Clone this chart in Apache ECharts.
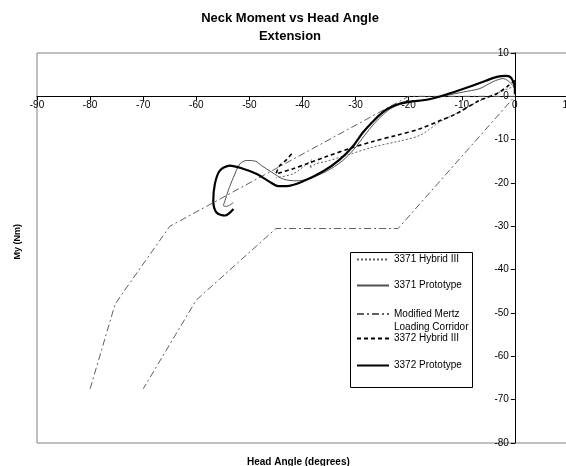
<!DOCTYPE html>
<html>
<head>
<meta charset="utf-8">
<script src="https://cdn.jsdelivr.net/npm/echarts@6/dist/echarts.min.js"></script>
<style>
  html, body { margin: 0; padding: 0; background: #fff; }
  #chart { width: 566px; height: 466px; }
</style>
</head>
<body>
<div id="chart"></div>
<script>
// Axis ticks
const xTicks = { min: -90, max: 10, step: 10 };
const yTicks = { min: -80, max: 10, step: 10 };

// Series names (legend order)
const seriesNames = [
  '3371 Hybrid III',
  '3371 Prototype',
  'Modified Mertz\nLoading Corridor',
  '3372 Hybrid III',
  '3372 Prototype'
];

// Head angle (deg) / neck moment My (Nm) pairs
const hybrid3371 = [
  [0, 2.4], [-2, 1.4], [-5, -0.1], [-8, -1.9], [-11, -3.9], [-14, -5.8],
  [-17.9, -9.0], [-22, -10.4], [-26.7, -11.7], [-31.7, -13.6], [-35.5, -15.0],
  [-37.5, -15.6], [-38.6, -16.6], [-38.2, -14.6], [-39.6, -16.0],
  [-41.8, -17.9], [-45.0, -18.8]
];

const proto3371 = [
  [0, 0.5], [0, 1.5], [-0.6, 2.8], [-2.2, 4.1], [-4.1, 3.4], [-6.6, 1.8],
  [-9.7, 1.0], [-12.5, 0.3], [-14.5, -0.2], [-17.3, -0.9], [-19.5, -1.3],
  [-21.7, -1.9], [-23.5, -2.9], [-24.8, -4.2], [-26.5, -6.3], [-28.3, -9.0],
  [-30.3, -12.2], [-32.5, -14.9], [-35.5, -17.3], [-39.0, -19.1], [-41.1, -19.5],
  [-43.6, -19.1], [-45.8, -17.5], [-47.7, -16.0], [-48.8, -15.0], [-50.5, -14.8],
  [-51.8, -15.6], [-53.0, -18.7], [-54.0, -21.8], [-54.6, -24.1], [-54.9, -25.2],
  [-54.3, -25.4], [-53.0, -24.5]
];

const mertzCorridor = [
  [-80, -67.5], [-75.3, -48], [-73.8, -45.3], [-65, -30], [-20, 0], [0, 0],
  [-22, -30.5], [-45, -30.5], [-60, -47], [-70, -67.5]
];

const hybrid3372 = [
  [0, 3.7], [-1.5, 2.2], [-3.4, 0.6], [-6.6, -0.9], [-11, -4.0], [-14.1, -5.6],
  [-17.9, -7.5], [-22.3, -9.0], [-26.7, -10.4], [-31.0, -12.0], [-35.5, -13.9],
  [-39.0, -15.5], [-42.0, -16.8], [-45.0, -17.9], [-44.3, -16.0], [-43.0, -14.6],
  [-42.0, -13.2]
];

const proto3372 = [
  [0, 0.5], [0, 1.8], [-0.6, 4.1], [-1.6, 4.7], [-3.4, 4.5], [-5.5, 3.6],
  [-7.9, 2.5], [-10.5, 1.4], [-13.5, 0.2], [-15.5, -0.5], [-17.3, -0.9],
  [-19.5, -1.2], [-21.7, -1.7], [-23.5, -2.6], [-24.8, -3.6], [-26.5, -5.5],
  [-28.6, -8.3], [-30.5, -11.5], [-33.0, -14.6], [-36.1, -17.3], [-39.9, -19.6],
  [-43.0, -20.7], [-44.6, -20.7], [-46.1, -19.8], [-48.6, -17.9], [-51.2, -16.7],
  [-53.7, -16.0], [-55.6, -17.2], [-56.5, -20.2], [-56.8, -24.1], [-56.2, -26.8],
  [-54.6, -27.5], [-53.0, -26.0]
];

const FONT = '"Liberation Sans", Arial, sans-serif';

const styles = [
  { color: '#606060', width: 1, type: [2, 2] },
  { color: '#505050', width: 1, type: 'solid' },
  { color: '#606060', width: 1, type: [7, 3, 2, 3] },
  { color: '#000000', width: 1.6, type: [4, 3] },
  { color: '#000000', width: 2.2, type: 'solid' }
];
const seriesData = [hybrid3371, proto3371, mertzCorridor, hybrid3372, proto3372];

// Legend rows: one legend per row inside a framed box.
// The two-line entry gets a blank leading line so its sample sits on the first text line.
const legendTops = [253, 279, 294.5, 332, 359];
const legends = seriesNames.map((name, i) => ({
  data: [name],
  left: 356,
  top: legendTops[i],
  orient: 'vertical',
  itemWidth: 32,
  itemHeight: 12,
  itemGap: 0,
  padding: 0,
  selectedMode: false,
  itemStyle: { opacity: 0 },
  formatter: n => (n.indexOf('\n') >= 0 ? ' \n' + n : n),
  textStyle: { fontFamily: FONT, fontSize: 10, color: '#000', lineHeight: 13 }
}));

const chart = echarts.init(document.getElementById('chart'), null, { renderer: 'canvas' });

const axisCommon = {
  axisLine: { onZero: false, lineStyle: { color: '#000', width: 1 } },
  axisTick: { show: true, length: 4, lineStyle: { color: '#000' } },
  splitLine: { show: false }
};

chart.setOption({
  animation: false,
  backgroundColor: '#ffffff',
  title: {
    text: 'Neck Moment vs Head Angle\nExtension',
    left: 290,
    top: 9,
    padding: 0,
    textAlign: 'center',
    textStyle: { fontFamily: FONT, fontSize: 13, fontWeight: 'bold', color: '#000', lineHeight: 18 }
  },
  grid: {
    left: 37, right: -2, top: 53, bottom: 23,
    outerBoundsMode: 'none',
    containLabel: false,
    show: true, borderColor: '#808080', borderWidth: 1, backgroundColor: 'transparent'
  },
  xAxis: Object.assign({
    type: 'value',
    position: 'bottom',
    offset: 0,
    min: xTicks.min, max: xTicks.max, interval: xTicks.step,
    axisLabel: { fontFamily: FONT, fontSize: 10, color: '#000', margin: 4 }
  }, axisCommon),
  yAxis: Object.assign({
    type: 'value',
    position: 'left',
    offset: 0,
    min: yTicks.min, max: yTicks.max, interval: yTicks.step,
    axisLabel: { fontFamily: FONT, fontSize: 10, color: '#000', margin: 6 }
  }, axisCommon),
  legend: legends,
  graphic: [
    {
      type: 'rect', left: 350, top: 252, z: 0,
      shape: { width: 122, height: 135 },
      style: { fill: '#fff', stroke: '#000', lineWidth: 1 }
    },
    {
      type: 'text', left: 13, top: 224, rotation: Math.PI / 2,
      style: { text: 'My (Nm)', fontFamily: FONT, fontSize: 9, fontWeight: 'bold', fill: '#000' }
    },
    {
      type: 'text', left: 247, top: 457,
      style: { text: 'Head Angle (degrees)', fontFamily: FONT, fontSize: 10, fontWeight: 'bold', fill: '#000' }
    }
  ],
  series: seriesNames.map((name, i) => ({
    name: name,
    type: 'line',
    data: seriesData[i],
    showSymbol: false,
    symbol: 'none',
    smooth: i === 2 ? false : 0.3,
    lineStyle: styles[i],
    itemStyle: { color: styles[i].color },
    emphasis: { disabled: true },
    z: 3 + i
  }))
});

// Move both axes onto the origin: offsets come from the grid's own scales.
const origin = chart.convertToPixel({ gridIndex: 0 }, [0, 0]);
const rect = chart.getModel().getComponent('grid', 0).coordinateSystem.getRect();
chart.setOption({
  xAxis: { offset: origin[1] - (rect.y + rect.height) },
  yAxis: { offset: rect.x - origin[0] }
});
</script>
</body>
</html>
